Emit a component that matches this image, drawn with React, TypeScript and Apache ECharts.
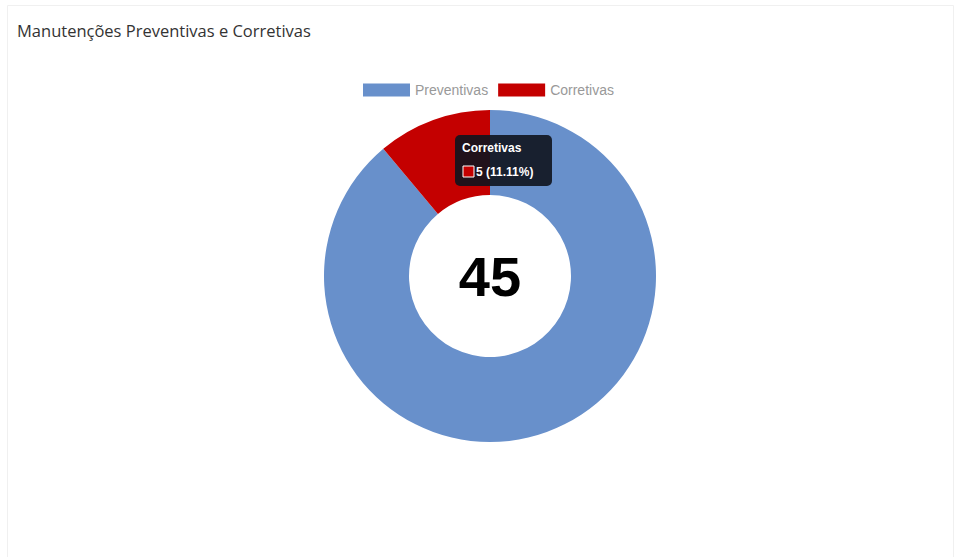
import React, { useEffect, useRef } from "react";
import * as echarts from "echarts";

const categories = ["Preventivas", "Corretivas"];
const values = [40, 5];
const colors = ["#6890cb", "#c40000"];
const chartTitle = "Manutenções Preventivas e Corretivas";
const highlighted = 1;

export default function App() {
  const ref = useRef<HTMLDivElement>(null);
  useEffect(() => {
    if (!ref.current) return;
    const chart = echarts.init(ref.current, null, { renderer: "svg" });
    const total = values.reduce((a, b) => a + b, 0);
    const pct = ((values[highlighted] / total) * 100).toFixed(2);
    const font = "'Open Sans', 'Noto Sans', sans-serif";
    const arial = "'Liberation Sans', Arial, sans-serif";
    const tx = 455;
    const ty = 135;
    chart.setOption({
      animation: false,
      backgroundColor: "#ffffff",
      title: {
        text: chartTitle,
        left: 12,
        top: 17,
        textStyle: { fontFamily: font, fontSize: 16.5, fontWeight: "normal", color: "#333" },
      },
      legend: {
        data: categories,
        top: 78,
        left: 358,
        icon: "rect",
        itemWidth: 47,
        itemHeight: 13,
        itemGap: 10,
        textStyle: { fontFamily: arial, fontSize: 14, color: "#999" },
      },
      series: [
        {
          type: "pie",
          center: [490, 276],
          radius: [81, 166],
          startAngle: 90,
          clockwise: true,
          label: { show: false },
          labelLine: { show: false },
          emphasis: { disabled: true },
          data: categories.map((c, i) => ({ name: c, value: values[i], itemStyle: { color: colors[i] } })),
        },
      ],
      graphic: [
        {
          type: "rect",
          left: 7,
          top: 5,
          shape: { width: 946, height: 560 },
          style: { fill: "#fff", stroke: "#f0f0f0", lineWidth: 1 },
          z: -10,
        },
        {
          type: "text",
          x: 490,
          y: 276,
          style: {
            text: String(total),
            font: `bold 56px ${arial}`,
            fill: "#000",
            align: "center",
            verticalAlign: "middle",
          },
          z: 10,
        },
        {
          type: "rect",
          x: tx,
          y: ty,
          shape: { x: 0, y: 0, width: 97, height: 51, r: 5 },
          style: { fill: "rgba(15,20,30,0.9)" },
          z: 20,
        },
        {
          type: "text",
          x: tx + 7,
          y: ty + 13,
          style: {
            text: categories[highlighted],
            font: `bold 12px ${arial}`,
            fill: "#fff",
            verticalAlign: "middle",
          },
          z: 21,
        },
        {
          type: "rect",
          x: tx + 8,
          y: ty + 31,
          shape: { x: 0, y: 0, width: 11, height: 11 },
          style: { fill: colors[highlighted], stroke: "#fff", lineWidth: 1 },
          z: 21,
        },
        {
          type: "text",
          x: tx + 21,
          y: ty + 36.5,
          style: {
            text: `${values[highlighted]} (${pct}%)`,
            font: `bold 12px ${arial}`,
            fill: "#fff",
            verticalAlign: "middle",
          },
          z: 21,
        },
      ],
    });
    return () => chart.dispose();
  }, []);
  return (
    <div
      ref={ref}
      style={{ position: "fixed", left: 0, top: 0, width: 961, height: 557, background: "#fff" }}
    />
  );
}
